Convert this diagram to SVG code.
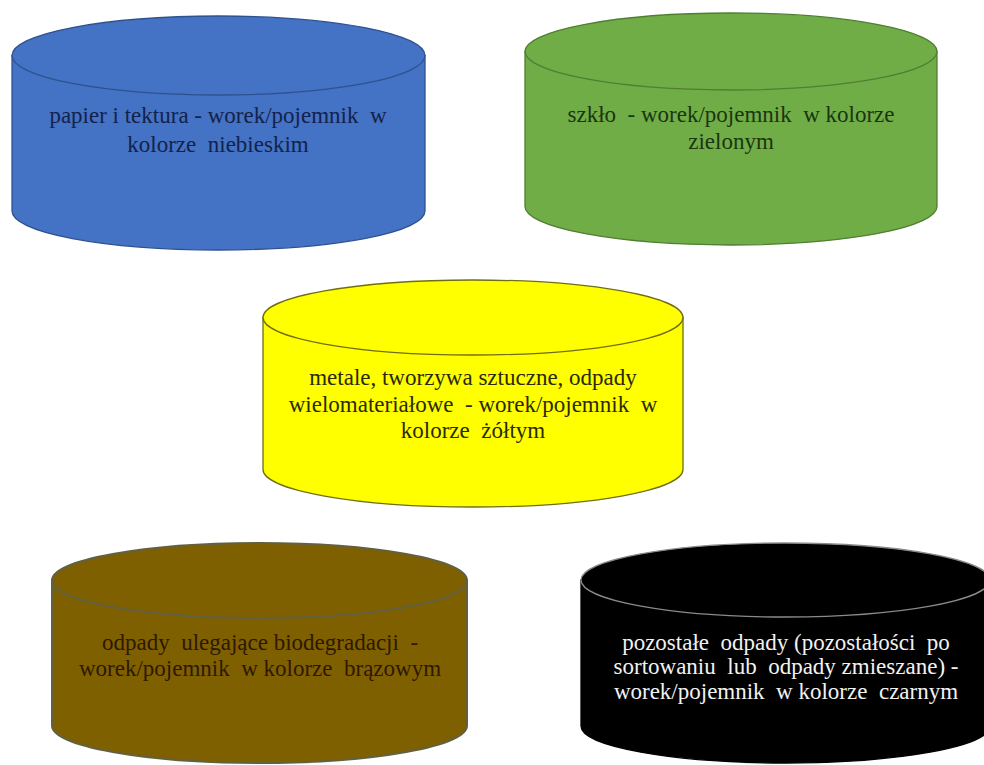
<svg xmlns="http://www.w3.org/2000/svg" width="984" height="765" viewBox="0 0 984 765">
<style>
.t{font-family:"Liberation Serif","Times New Roman",serif;font-size:23px;text-anchor:middle;white-space:pre}
</style>
<rect width="984" height="765" fill="#ffffff"/>
<g id="node-blue">
<path d="M12,55.5 L12,211 A206.5,39 0 0 0 425,211 L425,55.5 Z" fill="#4472C4" stroke="#2F528F" stroke-width="1.3"/>
<ellipse cx="218.5" cy="55.5" rx="206.5" ry="39.5" fill="#4472C4" stroke="#2F528F" stroke-width="1.3"/>
<text class="t" fill="#13224a"><tspan x="218" y="123">papier i tektura - worek/pojemnik  w</tspan><tspan x="218" y="152">kolorze  niebieskim</tspan></text>
</g>
<g id="node-green">
<path d="M525,51.5 L525,206.5 A206,38.5 0 0 0 937,206.5 L937,51.5 Z" fill="#70AD47" stroke="#507E32" stroke-width="1.3"/>
<ellipse cx="731" cy="51.5" rx="206" ry="38.5" fill="#70AD47" stroke="#507E32" stroke-width="1.3"/>
<text class="t" fill="#1a3510"><tspan x="731" y="122">szkło  - worek/pojemnik  w kolorze</tspan><tspan x="731" y="149">zielonym</tspan></text>
</g>
<g id="node-yellow">
<path d="M263,317.5 L263,469.5 A210,37.5 0 0 0 683,469.5 L683,317.5 Z" fill="#FFFF00" stroke="#6f6f10" stroke-width="1.3"/>
<ellipse cx="473" cy="317.5" rx="210" ry="37.5" fill="#FFFF00" stroke="#6f6f10" stroke-width="1.3"/>
<text class="t" fill="#2a2a00"><tspan x="473" y="385">metale, tworzywa sztuczne, odpady</tspan><tspan x="473" y="412">wielomateriałowe  - worek/pojemnik  w</tspan><tspan x="473" y="438">kolorze  żółtym</tspan></text>
</g>
<g id="node-brown">
<path d="M52,580.5 L52,725.5 A207.5,37.5 0 0 0 467,725.5 L467,580.5 Z" fill="#7F6000" stroke="#62603f" stroke-width="2"/>
<ellipse cx="259.5" cy="580.5" rx="207.5" ry="37.5" fill="#7F6000" stroke="#62603f" stroke-width="2"/>
<text class="t" fill="#2e1800"><tspan x="260" y="650">odpady  ulegające biodegradacji  -</tspan><tspan x="260" y="676">worek/pojemnik  w kolorze  brązowym</tspan></text>
</g>
<g id="node-black">
<path d="M581,580 L581,726 A204.5,37 0 0 0 990,726 L990,580 Z" fill="#000000" stroke="#000000" stroke-width="1.3"/>
<ellipse cx="785.5" cy="580" rx="204.5" ry="37" fill="#000000" stroke="#8a8a8a" stroke-width="1.3"/>
<text class="t" fill="#f2f2f2"><tspan x="786" y="650">pozostałe  odpady (pozostałości  po</tspan><tspan x="786" y="674">sortowaniu  lub  odpady zmieszane) -</tspan><tspan x="786" y="699">worek/pojemnik  w kolorze  czarnym</tspan></text>
</g>
<g id="connectors"/>
</svg>
